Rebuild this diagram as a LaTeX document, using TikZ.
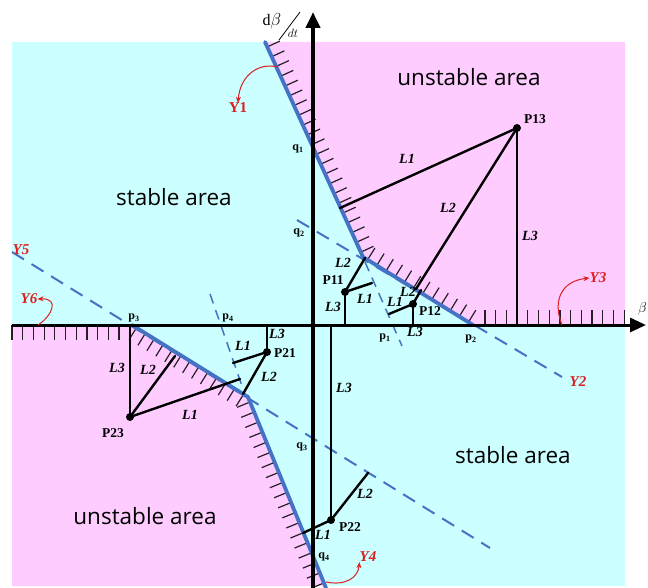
\documentclass[tikz,border=0pt]{standalone}
\usepackage{fontspec}
\setmainfont{Liberation Serif}
\newfontfamily\areafont{Open Sans}
\usetikzlibrary{calc,arrows.meta}
\definecolor{cyanbg}{RGB}{204,255,255}
\definecolor{pinkbg}{RGB}{255,204,255}
\definecolor{bnd}{RGB}{68,114,196}
\definecolor{ylab}{RGB}{220,30,30}
\begin{document}
\begin{tikzpicture}[x=1pt,y=-1pt,
  boundary/.style={bnd,line width=3.8pt,line cap=round,line join=round},
  guide/.style={bnd,line width=2pt,dash pattern=on 14pt off 9pt},
  thinguide/.style={bnd,line width=1.5pt,dash pattern=on 10pt off 7pt},
  hatch/.style={black!85!pinkbg,line width=1.2pt},
  axis/.style={black,-{Triangle[length=16pt,width=14pt]}},
  link/.style={black,line width=2.4pt,line cap=round},
  dot/.style={circle,fill=black,inner sep=0pt,minimum size=8pt},
  plab/.style={font=\fontsize{13.5}{14}\selectfont\bfseries,inner sep=0pt},
  llab/.style={font=\fontsize{14}{14}\selectfont\bfseries\itshape,inner sep=0pt},
  qlab/.style={font=\fontsize{12}{12}\selectfont\bfseries,inner sep=0pt},
  ylabel/.style={font=\fontsize{15}{15}\selectfont\bfseries\itshape,text=ylab,inner sep=0pt},
  area/.style={font=\fontsize{22.5}{24}\selectfont\areafont,inner sep=0pt},
  redarrow/.style={ylab,line width=1pt,-{Stealth[length=6pt,width=5pt]}}
]
\useasboundingbox (0,0) rectangle (648,588);
% background regions
\fill[cyanbg] (12,42) rectangle (625,586);
\coordinate (T1) at (265,42);
\coordinate (C1) at (363,257);
\coordinate (P2) at (473,325);
\coordinate (P3) at (132,325);
\coordinate (C2) at (248,397);
\coordinate (B4) at (326,588);
\fill[pinkbg] (T1) -- (C1) -- (P2) -- (625,325) -- (625,42) -- cycle;
\fill[pinkbg] (12,325) -- (P3) -- (C2) -- (326,586) -- (12,586) -- cycle;
% hatches along the boundaries
\foreach \a/\b/\n/\ang in {T1/C1/22/90, C1/P2/12/90, P3/C2/13/-90, C2/B4/19/-90} {
  \foreach \i in {1,...,\n} {
    \coordinate (h) at ($(\a)!{(\i-0.5)/\n}!(\b)$);
    \draw[hatch] (h) -- ($(h)!14pt!\ang:(\b)$);
  }
}
\foreach \x in {485,495.7,...,626} \draw[hatch] (\x,325) -- (\x,310);
\foreach \x in {12,22.7,...,131} \draw[hatch] (\x,325) -- (\x,340);
% dashed guide lines
\coordinate (G2a) at (297,220);
\coordinate (G2b) at (562,377);
\coordinate (G5a) at (12,252);
\coordinate (G5b) at (490,548);
\coordinate (G4a) at (210,294);
\coordinate (G4b) at (242,386);
\coordinate (G1a) at (365,262);
\coordinate (G1b) at (402,346);
\draw[guide] (G2a) -- (G2b);
\draw[guide] (G5a) -- (G5b);
\draw[thinguide] (G4a) -- (G4b);
\draw[thinguide] (G1a) -- (G1b);
% boundaries
\draw[boundary] (T1) -- (C1) -- (P2);
\draw[boundary] (P3) -- (C2) -- (B4);
% axes
\coordinate (XA) at (12,325);
\coordinate (XB) at (646,325);
\coordinate (YA) at (313,588);
\coordinate (YB) at (313,12);
\draw[axis,line width=3pt] (XA) -- (XB);
\draw[axis,line width=4.2pt] (YA) -- (YB);
% axis labels
\node[inner sep=0pt,font=\fontsize{16}{16}\selectfont] (dbeta) at (272,21) {d$\beta$};
\node[inner sep=0pt,font=\fontsize{13}{13}\selectfont] (dt) at (293,33) {$dt$};
\coordinate (s1) at (279,40);
\coordinate (s2) at (300,12);
\draw[line width=0.8pt] (s1) -- (s2);
\node[inner sep=0pt,anchor=east,font=\fontsize{14}{14}\selectfont] (betax) at (647,309) {$\beta$};
% mechanism P13
\node[dot] (P13) at (517,128) {};
\coordinate (a1) at (340,208);
\coordinate (a2) at (416,289);
\coordinate (a3) at (517,325);
\draw[link] (P13.center) -- (a1);
\draw[link] (P13.center) -- (a2);
\draw[link] (P13.center) -- (a3);
% P11
\node[dot] (P11) at (345,292) {};
\coordinate (b1) at (372,283);
\coordinate (b2) at (365,258);
\coordinate (b3) at (345,325);
\draw[link] (P11.center) -- (b1);
\draw[link] (P11.center) -- (b2);
\draw[link] (P11.center) -- (b3);
% P12
\node[dot] (P12) at (413,304) {};
\coordinate (c1) at (389,314);
\coordinate (c2) at (421,290);
\coordinate (c3) at (413,325);
\draw[link] (P12.center) -- (c1);
\draw[link] (P12.center) -- (c2);
\draw[link] (P12.center) -- (c3);
% P21
\node[dot] (P21) at (267,352) {};
\coordinate (d1) at (233,363);
\coordinate (d2) at (243,394);
\coordinate (d3) at (267,325);
\draw[link] (P21.center) -- (d1);
\draw[link] (P21.center) -- (d2);
\draw[link] (P21.center) -- (d3);
% P23
\node[dot] (P23) at (130,417) {};
\coordinate (e1) at (240,379);
\coordinate (e2) at (175,356);
\coordinate (e3) at (130,325);
\draw[link] (P23.center) -- (e1);
\draw[link] (P23.center) -- (e2);
\draw[link] (P23.center) -- (e3);
% P22
\node[dot] (P22) at (331,520) {};
\coordinate (f1) at (303,533);
\coordinate (f2) at (368,473);
\coordinate (f3) at (331,325);
\draw[link] (P22.center) -- (f1);
\draw[link] (P22.center) -- (f2);
\draw[link,line width=2pt] (P22.center) -- (f3);
% point labels
\node[plab] (lP13) at (535,119) {P13};
\node[plab] (lP11) at (333,280) {P11};
\node[plab] (lP12) at (430,311) {P12};
\node[plab] (lP21) at (285,353) {P21};
\node[plab] (lP23) at (113,433) {P23};
\node[plab] (lP22) at (350,527) {P22};
% link labels
\node[llab] (l131) at (407,159) {L1};
\node[llab] (l132) at (448,208) {L2};
\node[llab] (l133) at (530,236) {L3};
\node[llab] (l111) at (365,299) {L1};
\node[llab] (l112) at (343,263) {L2};
\node[llab] (l113) at (333,307) {L3};
\node[llab] (l121) at (395,302) {L1};
\node[llab] (l122) at (408,292) {L2};
\node[llab] (l123) at (415,332) {L3};
\node[llab] (l211) at (243,346) {L1};
\node[llab] (l212) at (269,377) {L2};
\node[llab] (l213) at (277,334) {L3};
\node[llab] (l231) at (190,415) {L1};
\node[llab] (l232) at (148,370) {L2};
\node[llab] (l233) at (117,368) {L3};
\node[llab] (l221) at (323,535) {L1};
\node[llab] (l222) at (365,494) {L2};
\node[llab] (l223) at (344,388) {L3};
% p, q labels
\node[qlab] (q1) at (298,149) {q\textsubscript{1}};
\node[qlab] (q2) at (299,233) {q\textsubscript{2}};
\node[qlab] (q3) at (302,447) {q\textsubscript{3}};
\node[qlab] (q4) at (324,557) {q\textsubscript{4}};
\node[qlab] (p1) at (385,338) {p\textsubscript{1}};
\node[qlab] (p2) at (471,339) {p\textsubscript{2}};
\node[qlab] (p3) at (134,318) {p\textsubscript{3}};
\node[qlab] (p4) at (228,318) {p\textsubscript{4}};
% area labels
\node[area] (ua1) at (469,77) {unstable area};
\node[area] (sa1) at (174,197) {stable area};
\node[area] (sa2) at (513,455) {stable area};
\node[area] (ua2) at (145,516) {unstable area};
% Y labels
\node[ylabel,font=\fontsize{15}{15}\selectfont\bfseries] (Y1) at (238,108) {Y1};
\node[ylabel] (Y2) at (578,382) {Y2};
\node[ylabel] (Y3) at (598,278) {Y3};
\node[ylabel] (Y4) at (368,557) {Y4};
\node[ylabel] (Y5) at (21,250) {Y5};
\node[ylabel] (Y6) at (29,299) {Y6};
% red arrows
\coordinate (r1) at (278,67);
\coordinate (r3) at (562,325);
\coordinate (r4) at (326,582);
\coordinate (r6) at (38,325);
\draw[redarrow] (r1) .. controls (258,62) and (240,76) .. (Y1.north);
\draw[redarrow] (r3) .. controls (552,300) and (562,281) .. (Y3.west);
\draw[redarrow] (r4) .. controls (345,586) and (358,578) .. (Y4.south west);
\draw[redarrow] (r6) .. controls (52,316) and (60,298) .. (Y6.east);
\end{tikzpicture}
\end{document}
